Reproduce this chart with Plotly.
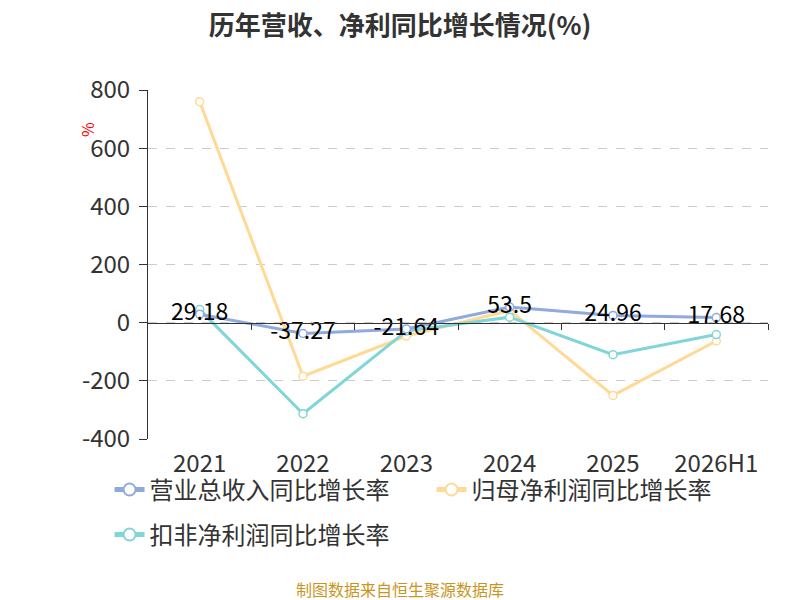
import plotly.graph_objects as go

# x categories and the three growth series (%)
years = ["2021", "2022", "2023", "2024", "2025", "2026H1"]
revenue_yoy = [29.18, -37.27, -21.64, 53.5, 24.96, 17.68]
netprofit_yoy = [760, -184, -46, 42, -250, -63]
deducted_yoy = [45, -313, -29, 19, -110, -41]

y_ticks = [-400, -200, 0, 200, 400, 600, 800]
y_ticktext = ["-400", "-200", "0", "200", "400", "600", "800"]

series_names = ["营业总收入同比增长率", "归母净利润同比增长率", "扣非净利润同比增长率"]
colors = ["#8FAADC", "#FFD995", "#80D6D6"]

FONT = "Noto Sans CJK SC"
xpos = list(range(len(years)))

# page body adds an 8px margin, so the figure is 8px smaller each way
W, H = 792, 592
L, T, PW, PH = 140, 82, 620, 349

fig = go.Figure()

# draw order: yellow, teal, then blue with labels on top
order = [1, 2, 0]
series_vals = [revenue_yoy, netprofit_yoy, deducted_yoy]
legend_of = ["legend", "legend", "legend2"]  # two legend rows
for i in order:
    name, vals, col = series_names[i], series_vals[i], colors[i]
    is_rev = i == 0
    fig.add_trace(go.Scatter(
        x=xpos, y=vals, name=name, legendrank=i + 1, legend=legend_of[i],
        mode="lines+markers+text" if is_rev else "lines+markers",
        line=dict(color=col, width=3),
        marker=dict(symbol="circle", size=8, color="white", line=dict(color=col, width=1.5)),
        text=[str(v) for v in vals] if is_rev else None,
        textposition="middle center",
        textfont=dict(family=FONT, size=23, color="#000"),
        cliponaxis=False,
    ))

# helper trace for the axis that sits on zero
fig.add_trace(go.Scatter(x=[-0.5, 5.5], y=[0, 0], xaxis="x2", mode="lines",
                         line=dict(width=0), showlegend=False, hoverinfo="skip"))

legend_style = dict(orientation="h", xanchor="left", yanchor="middle",
                    entrywidth=277, entrywidthmode="pixels", bgcolor="rgba(0,0,0,0)",
                    font=dict(family=FONT, size=24, color="#333"), itemsizing="constant")

fig.update_layout(
    width=W, height=H,
    margin=dict(l=L, r=W - L - PW, t=T, b=H - T - PH, autoexpand=False),
    paper_bgcolor="white", plot_bgcolor="white",
    title=dict(text="<b>历年营收、净利同比增长情况(%)</b>", x=(400 - 8) / W, xanchor="center",
               y=1 - 18 / H, yanchor="middle", font=dict(family=FONT, size=26, color="#333")),
    xaxis=dict(range=[-0.5, 5.5], tickvals=xpos, ticktext=years, showgrid=False,
               zeroline=False, showline=False, ticks="", ticklabelstandoff=8,
               tickfont=dict(family=FONT, size=24, color="#333")),
    xaxis2=dict(range=[-0.5, 5.5], overlaying="x", anchor="free", position=1 / 3,
                side="bottom", showline=True, linecolor="#333", linewidth=1,
                tickvals=[i + 0.5 for i in xpos], ticks="outside", ticklen=6,
                tickcolor="#333", showticklabels=False, showgrid=False, zeroline=False),
    yaxis=dict(range=[-400, 800], tickvals=y_ticks, ticktext=y_ticktext,
               showgrid=True, gridcolor="#CCCCCC", griddash="dash", gridwidth=1,
               zeroline=False, showline=True, linecolor="#333", linewidth=1,
               ticks="outside", ticklen=8, tickcolor="#333", ticklabelstandoff=4,
               tickfont=dict(family=FONT, size=24, color="#333")),
    legend=dict(x=-0.062, y=(T + PH - 482) / PH, **legend_style),
    legend2=dict(x=-0.062, y=(T + PH - 527) / PH, **legend_style),
    showlegend=True,
    annotations=[
        dict(text="%", xref="paper", yref="paper", x=(79 - L) / PW, y=(T + PH - 122) / PH,
             xanchor="center", yanchor="middle",
             showarrow=False, textangle=-90, font=dict(family=FONT, size=16, color="red")),
        dict(text="制图数据来自恒生聚源数据库", xref="paper", yref="paper",
             x=(392 - L) / PW, y=(T + PH - 581) / PH, xanchor="center", yanchor="middle",
             showarrow=False, font=dict(family=FONT, size=16, color="#C8961E")),
    ],
)

fig.write_html("out.html")
